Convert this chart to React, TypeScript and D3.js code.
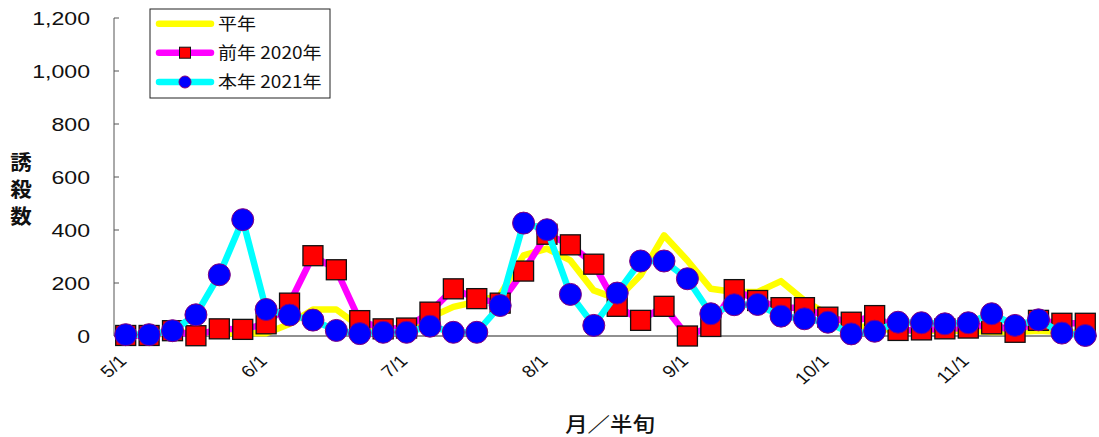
import React from "react";
import * as d3 from "d3";

const categories = [
  "5/1","5/2","5/3","5/4","5/5","5/6",
  "6/1","6/2","6/3","6/4","6/5","6/6",
  "7/1","7/2","7/3","7/4","7/5","7/6",
  "8/1","8/2","8/3","8/4","8/5","8/6",
  "9/1","9/2","9/3","9/4","9/5","9/6",
  "10/1","10/2","10/3","10/4","10/5","10/6",
  "11/1","11/2","11/3","11/4","11/5","11/6",
];
const tickLabels = ["5/1","6/1","7/1","8/1","9/1","10/1","11/1"];
const yTicks = [0, 200, 400, 600, 800, 1000, 1200];

const avgValues = [5,5,10,15,10,10, 10,45,100,100,35,20, 25,70,110,130,155,304, 330,285,172,140,229,380, 285,178,166,166,207,134, 80,40,30,20,20,20, 20,15,15,20,15,10];
const prevValues = [2,2,20,1,27,25, 46,124,303,250,58,27, 30,90,178,141,124,245, 384,344,271,112,59,112, 0,36,175,134,107,107, 71,52,77,21,23,27, 30,46,14,59,48,48];
const currValues = [5,5,20,80,231,439, 100,79,60,21,9,14, 14,37,14,14,115,426, 401,157,40,162,283,283, 216,84,118,119,75,65, 52,8,18,52,50,46, 50,84,40,61,11,2];

const seriesNames = ["平年", "前年 2020年", "本年 2021年"];

const W = 1099, H = 437;
const left = 114, right = 1097, top = 18, bottom = 336;
const JP = "'Noto Sans CJK JP', 'Noto Sans', sans-serif";
const LAT = "'Liberation Sans', Arial, sans-serif";

export default function App() {
  const x = d3.scaleBand<number>().domain(d3.range(categories.length)).range([left, right]).padding(0);
  const cx = (i: number) => (x(i) as number) + x.bandwidth() / 2;
  const y = d3.scaleLinear().domain([0, 1200]).range([bottom, top]);
  const line = d3.line<number>().x((_, i) => cx(i)).y((d) => y(d));

  const legendRows = [23.7, 52.7, 82];

  return (
    <svg width={W} height={H} style={{ position: "absolute", left: 0, top: 0, background: "#fff" }}>
      <rect x={0} y={0} width={W} height={H} fill="#fff" />
      {/* axes */}
      <line x1={left} x2={left} y1={top} y2={bottom} stroke="#555" strokeWidth={1} />
      <line x1={left} x2={right} y1={bottom} y2={bottom} stroke="#222" strokeWidth={1.2} />
      {yTicks.map((t) => (
        <g key={t}>
          <line x1={left} x2={left + 5} y1={y(t)} y2={y(t)} stroke="#555" />
          <text
            transform={`translate(90,${y(t)}) scale(1.25,1)`}
            textAnchor="end"
            dy="0.36em"
            fontFamily={LAT}
            fontSize={18.5}
            fill="#111"
          >
            {d3.format(",")(t)}
          </text>
        </g>
      ))}
      {categories.map((c, i) =>
        tickLabels.includes(c) ? (
          <text
            key={c}
            transform={`translate(${cx(i) + 2},${bottom + 26}) scale(1.15,1) rotate(-45)`}
            textAnchor="end"
            fontFamily={LAT}
            fontSize={17}
            fill="#111"
          >
            {c}
          </text>
        ) : null
      )}
      {/* axis titles */}
      {["誘", "殺", "数"].map((ch, i) => (
        <text
          key={ch}
          transform={`translate(21,${163 + i * 27}) scale(1.05,1)`}
          textAnchor="middle"
          dy="0.36em"
          fontFamily={JP}
          fontWeight={700}
          fontSize={20.5}
          fill="#111"
        >
          {ch}
        </text>
      ))}
      <text
        transform={`translate(610,425) scale(1.12,1)`}
        textAnchor="middle"
        dy="0.36em"
        fontFamily={JP}
        fontWeight={500}
        fontSize={20}
        fill="#111"
      >
        月／半旬
      </text>

      {/* series */}
      <path d={line(avgValues) || ""} fill="none" stroke="#FFFF00" strokeWidth={6.5} strokeLinejoin="round" />
      <path d={line(prevValues) || ""} fill="none" stroke="#FF00FF" strokeWidth={6.5} strokeLinejoin="round" />
      {prevValues.map((v, i) => (
        <rect key={i} x={cx(i) - 10} y={y(v) - 10} width={20} height={20} fill="#FF0000" stroke="#111" strokeWidth={1.3} />
      ))}
      <path d={line(currValues) || ""} fill="none" stroke="#00FFFF" strokeWidth={6.5} strokeLinejoin="round" />
      {currValues.map((v, i) => (
        <circle key={i} cx={cx(i)} cy={y(v)} r={11} fill="#0000FF" stroke="#800080" strokeWidth={1} />
      ))}

      {/* legend */}
      <rect x={150} y={9} width={180} height={89} fill="#fff" stroke="#222" strokeWidth={1} />
      {legendRows.map((ly, k) => (
        <g key={k}>
          <line
            x1={159}
            x2={211}
            y1={ly}
            y2={ly}
            stroke={["#FFFF00", "#FF00FF", "#00FFFF"][k]}
            strokeWidth={6.5}
            strokeLinecap="round"
          />
          {k === 1 && <rect x={185 - 5.5} y={ly - 5.5} width={11} height={11} fill="#FF0000" stroke="#111" strokeWidth={1} />}
          {k === 2 && <circle cx={185} cy={ly} r={6} fill="#0000FF" stroke="#800080" strokeWidth={1} />}
          <text
            transform={`translate(218,${ly}) scale(1.12,1)`}
            dy="0.36em"
            fontFamily={JP}
            fontSize={17}
            fill="#111"
          >
            {seriesNames[k]}
          </text>
        </g>
      ))}
    </svg>
  );
}
